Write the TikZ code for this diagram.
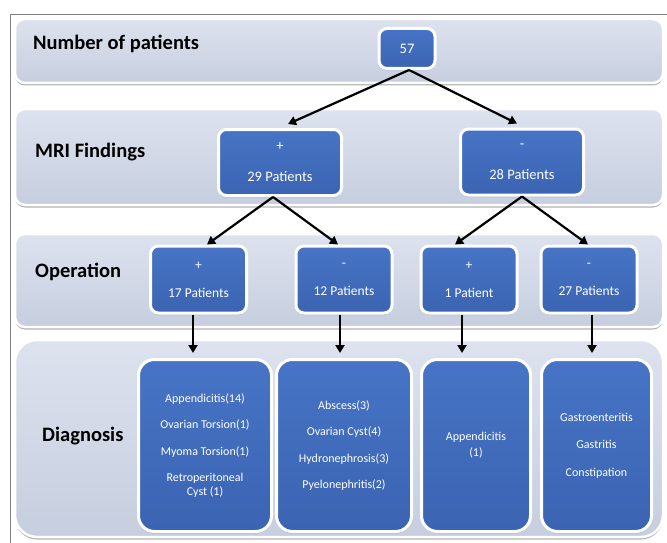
\documentclass[tikz,border=0pt]{standalone}
\usepackage{fontspec}
\setmainfont{Carlito}
\usetikzlibrary{arrows.meta,shadows}
\definecolor{bandA}{HTML}{DDE2EE}
\definecolor{bandB}{HTML}{C6CEDF}
\definecolor{blueA}{HTML}{4774C6}
\definecolor{blueB}{HTML}{3B64B2}
\definecolor{framegray}{HTML}{808080}
\begin{document}
\begin{tikzpicture}[x=1pt,y=-1pt,
  band/.style={draw=white, line width=2.5pt, rounded corners=10pt, top color=bandA, bottom color=bandB,
    drop shadow={shadow xshift=0pt, shadow yshift=-2.5pt, opacity=0.5, fill=black!60}, inner sep=0pt},
  bandlabel/.style={anchor=west, inner sep=0pt, font=\fontsize{20.5}{24}\selectfont\bfseries, text=black},
  bluebox/.style={draw=white, line width=3pt, rounded corners=8pt, top color=blueA, bottom color=blueB,
    text=white, align=center, inner sep=0pt,
    drop shadow={shadow xshift=0pt, shadow yshift=-2pt, opacity=0.35}},
  mrinode/.style={bluebox, minimum width=123pt, minimum height=66pt, font=\fontsize{14.5}{17}\selectfont},
  opnode/.style={bluebox, minimum width=96pt, minimum height=67pt, font=\fontsize{13.5}{16}\selectfont},
  diagbox/.style={bluebox, rounded corners=16pt, minimum height=172pt, font=\fontsize{12}{14}\selectfont},
  conn/.style={line width=2.2pt, -{Triangle[length=8pt,width=9pt]}}
]
\useasboundingbox (0,0) rectangle (667,543);
\draw[framegray, line width=1pt] (10,543) -- (10,15) -- (667,15);

% bands
\node[band, minimum width=648pt, minimum height=64pt] (b1) at (339,51) {};
\node[band, minimum width=648pt, minimum height=96pt] (b2) at (339,157) {};
\node[band, minimum width=648pt, minimum height=93pt] (b3) at (339,280.5) {};
\node[band, rounded corners=22pt, minimum width=648pt, minimum height=197pt] (b4) at (339,438.5) {};

% band labels
\node[bandlabel] (l1) at (33,44) {Number of patients};
\node[bandlabel] (l2) at (35,152) {MRI Findings};
\node[bandlabel] (l3) at (35,272) {Operation};
\node[bandlabel] (l4) at (42,436) {Diagnosis};

% nodes
\node[bluebox, minimum width=56pt, minimum height=40pt, font=\fontsize{14.5}{17}\selectfont] (n57) at (407,48.5) {57};
\node[mrinode] (p29) at (280,162.5) {+\\[14pt]29 Patients};
\node[mrinode] (m28) at (522,162) {-\\[14pt]28 Patients};
\node[opnode] (o17) at (198.5,279.5) {+\\[12pt]17 Patients};
\node[opnode] (o12) at (344,279.5) {-\\[12pt]12 Patients};
\node[opnode] (o1) at (469,279.5) {+\\[12pt]1 Patient};
\node[opnode] (o27) at (589,279.5) {-\\[12pt]27 Patients};

\node[diagbox, minimum width=133pt] (d1) at (205,445.5)
  {Appendicitis(14)\\[12.5pt]Ovarian Torsion(1)\\[12.5pt]Myoma Torsion(1)\\[12.5pt]Retroperitoneal\\Cyst (1)};
\node[diagbox, minimum width=135pt] (d2) at (344,445.5)
  {Abscess(3)\\[12.5pt]Ovarian Cyst(4)\\[12.5pt]Hydronephrosis(3)\\[12.5pt]Pyelonephritis(2)};
\node[diagbox, minimum width=109pt] (d3) at (476,445.5) {Appendicitis\\[2pt](1)};
\node[diagbox, minimum width=110pt] (d4) at (596.5,445.5)
  {Gastroenteritis\\[13.5pt]Gastritis\\[13.5pt]Constipation};

% connectors
\draw[conn] ([xshift=2pt]n57.south) -- ([xshift=8pt,yshift=4pt]p29.north);
\draw[conn] ([xshift=2pt]n57.south) -- ([xshift=-5pt,yshift=4pt]m28.north);
\draw[conn] ([xshift=-7pt]p29.south) -- ([xshift=8.5pt]o17.north);
\draw[conn] ([xshift=-7pt]p29.south) -- ([xshift=-6pt]o12.north);
\draw[conn] (m28.south) -- ([xshift=-14pt]o1.north);
\draw[conn] (m28.south) -- ([xshift=-1pt]o27.north);
\draw[conn, shorten >=5pt] ([xshift=-5.5pt]o17.south) -- ([xshift=-5.5pt]o17.south |- d1.north);
\draw[conn, shorten >=5pt] ([xshift=-4pt]o12.south) -- ([xshift=-4pt]o12.south |- d2.north);
\draw[conn, shorten >=5pt] ([xshift=-7pt]o1.south) -- ([xshift=-7pt]o1.south |- d3.north);
\draw[conn, shorten >=5pt] ([xshift=3pt]o27.south) -- ([xshift=3pt]o27.south |- d4.north);
\end{tikzpicture}
\end{document}
